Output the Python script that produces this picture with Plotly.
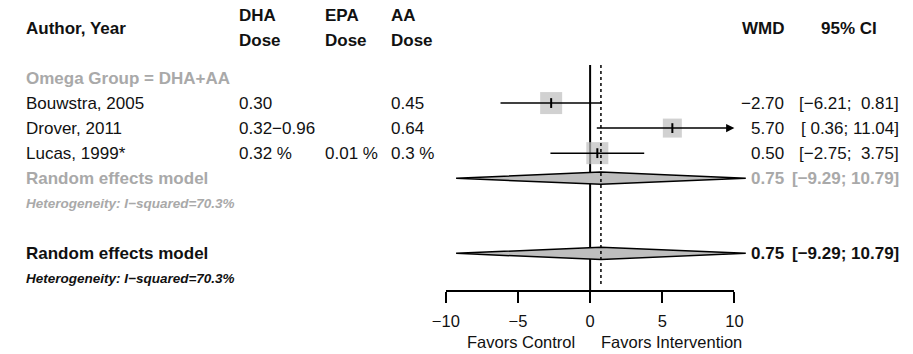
import plotly.graph_objects as go

# ---------------- data ----------------
studies = ["Bouwstra, 2005", "Drover, 2011", "Lucas, 1999*"]
dha_dose = ["0.30", "0.32\u22120.96", "0.32 %"]
epa_dose = ["", "", "0.01 %"]
aa_dose = ["0.45", "0.64", "0.3 %"]
wmd = [-2.70, 5.70, 0.50]
ci_lower = [-6.21, 0.36, -2.75]
ci_upper = [0.81, 11.04, 3.75]
subgroup_label = "Omega Group = DHA+AA"
pooled_wmd = 0.75
pooled_lower = -9.29
pooled_upper = 10.79
i_squared = 70.3
x_ticks = [-10, -5, 0, 5, 10]
label_left = "Favors Control"
label_right = "Favors Intervention"

# ---------------- layout constants ----------------
W, H = 913, 354
PX_PER_UNIT = 14.8
X_ZERO_PX = 591
ROW0_PX = 78
ROW_PX = 25.05
FONT = "Liberation Sans, Arial, Helvetica, sans-serif"
BLACK = "#111111"
GREY_TXT = "#a9a9a9"
GREY_FILL = "#bebebe"
SQUARE_PX = [22, 19, 22]

def row_of_px(p):
    return (p - ROW0_PX) / ROW_PX

def paper_x(p):
    return p / W

# rows
R_HDR = row_of_px(28)
R_HDR1 = row_of_px(15)
R_HDR2 = row_of_px(40)
R_SUB = 0
R_STUDY = [1, 2, 3]
R_SUB_RE = 4
R_SUB_HET = 5
R_RE = 7
R_HET = 8
R_AXIS = row_of_px(291)
R_LINE_TOP = row_of_px(65)
R_DOT_BOT = row_of_px(287)
R_FAVORS = row_of_px(342)

x_min_axis, x_max_axis = x_ticks[0], x_ticks[-1]

def fmt(v):
    s = f"{v:.2f}"
    return s.replace("-", "\u2212")

def fmt_ci(lo, hi, wl, wh):
    return "[" + fmt(lo).rjust(wl) + "; " + fmt(hi).rjust(wh) + "]"

wl = max(len(fmt(v)) for v in ci_lower)
wh = max(len(fmt(v)) for v in ci_upper)

fig = go.Figure()

# zero (no-effect) line
fig.add_trace(go.Scatter(x=[0, 0], y=[R_LINE_TOP, R_AXIS], mode="lines",
                         line=dict(color="black", width=2), hoverinfo="skip", showlegend=False))

# diamonds
def diamond(est, lo, hi, r, h=0.245):
    return go.Scatter(x=[lo, est, hi, est, lo], y=[r, r - h, r, r + h, r],
                      mode="lines", fill="toself", fillcolor=GREY_FILL,
                      line=dict(color="black", width=1.5), hoverinfo="skip", showlegend=False)

fig.add_trace(diamond(pooled_wmd, pooled_lower, pooled_upper, R_SUB_RE))
fig.add_trace(diamond(pooled_wmd, pooled_lower, pooled_upper, R_RE))

# squares
fig.add_trace(go.Scatter(x=wmd, y=R_STUDY, mode="markers",
                         marker=dict(symbol="square", size=SQUARE_PX, color=GREY_FILL, line=dict(width=0)),
                         hoverinfo="skip", showlegend=False))

# CI lines (within axis range)
for lo, hi, r in zip(ci_lower, ci_upper, R_STUDY):
    if hi <= x_max_axis and lo >= x_min_axis:
        fig.add_trace(go.Scatter(x=[lo, hi], y=[r, r], mode="lines",
                                 line=dict(color="black", width=1.5), hoverinfo="skip", showlegend=False))

# estimate ticks
fig.add_trace(go.Scatter(x=wmd, y=R_STUDY, mode="markers",
                         marker=dict(symbol="line-ns", size=7, line=dict(color="black", width=2)),
                         hoverinfo="skip", showlegend=False))

# dotted pooled line
fig.add_trace(go.Scatter(x=[pooled_wmd, pooled_wmd], y=[R_LINE_TOP, R_DOT_BOT], mode="lines",
                         line=dict(color="black", width=1.5, dash="dot"), hoverinfo="skip", showlegend=False))

# dummy trace for visible axis
fig.add_trace(go.Scatter(x=[x_min_axis, x_max_axis], y=[R_AXIS, R_AXIS], xaxis="x2", yaxis="y",
                         mode="markers", marker=dict(opacity=0), hoverinfo="skip", showlegend=False))

annotations = []

def txt(text, xpx, r, anchor="left", size=17, color=BLACK, bold=False, italic=False):
    t = text
    if bold:
        t = "<b>" + t + "</b>"
    if italic:
        t = "<i>" + t + "</i>"
    annotations.append(dict(text=t, x=paper_x(xpx), y=r, xref="paper", yref="y",
                            xanchor=anchor, yanchor="middle", showarrow=False,
                            font=dict(family=FONT, size=size, color=color)))

# headers
txt("Author, Year", 10, R_HDR, bold=True)
for name, xp in [("DHA", 229), ("EPA", 317), ("AA", 385)]:
    txt(name, xp, R_HDR1, bold=True)
    txt("Dose", xp, R_HDR2, bold=True)
txt("WMD", 792, R_HDR, anchor="right", bold=True)
txt("95% CI", 857, R_HDR, anchor="center", bold=True)

# subgroup label
txt(subgroup_label, 10, R_SUB, color=GREY_TXT, bold=True)

# study rows
for i, r in enumerate(R_STUDY):
    txt(studies[i], 10, r)
    txt(dha_dose[i], 229, r)
    if epa_dose[i]:
        txt(epa_dose[i], 317, r)
    txt(aa_dose[i], 385, r)
    txt(fmt(wmd[i]), 792, r, anchor="right")
    txt(fmt_ci(ci_lower[i], ci_upper[i], wl, wh), 910, r, anchor="right")

het_text = f"Heterogeneity: I\u2212squared={i_squared}%"
pooled_ci = fmt_ci(pooled_lower, pooled_upper, 0, 0)

txt("Random effects model", 10, R_SUB_RE, color=GREY_TXT, bold=True)
txt(fmt(pooled_wmd), 792, R_SUB_RE, anchor="right", color=GREY_TXT, bold=True)
txt(pooled_ci, 910, R_SUB_RE, anchor="right", color=GREY_TXT, bold=True)
txt(het_text, 10, R_SUB_HET, size=13.5, color=GREY_TXT, bold=True, italic=True)

txt("Random effects model", 10, R_RE, bold=True)
txt(fmt(pooled_wmd), 792, R_RE, anchor="right", bold=True)
txt(pooled_ci, 910, R_RE, anchor="right", bold=True)
txt(het_text, 10, R_HET, size=13.5, bold=True, italic=True)

# arrows for truncated CIs
for lo, hi, r in zip(ci_lower, ci_upper, R_STUDY):
    if hi > x_max_axis:
        annotations.append(dict(x=x_max_axis, y=r, ax=lo, ay=r, xref="x", yref="y",
                                axref="x", ayref="y", text="", showarrow=True,
                                arrowhead=2, arrowsize=1.1, arrowwidth=1.5, arrowcolor="black",
                                standoff=0, startstandoff=0))

# favours labels
annotations.append(dict(text=label_left, x=(578 - X_ZERO_PX) / PX_PER_UNIT, y=R_FAVORS,
                        xref="x", yref="y", xanchor="right", yanchor="middle", showarrow=False,
                        font=dict(family=FONT, size=16.5, color=BLACK)))
annotations.append(dict(text=label_right, x=(600 - X_ZERO_PX) / PX_PER_UNIT, y=R_FAVORS,
                        xref="x", yref="y", xanchor="left", yanchor="middle", showarrow=False,
                        font=dict(family=FONT, size=16.5, color=BLACK)))

x_lo = -X_ZERO_PX / PX_PER_UNIT
x_hi = (W - X_ZERO_PX) / PX_PER_UNIT
y_top = -ROW0_PX / ROW_PX
y_bot = y_top + H / ROW_PX

fig.update_layout(
    width=W, height=H,
    margin=dict(l=0, r=0, t=0, b=0),
    paper_bgcolor="white", plot_bgcolor="rgba(0,0,0,0)",
    showlegend=False,
    annotations=annotations,
    xaxis=dict(range=[x_lo, x_hi], domain=[0, 1], visible=False, fixedrange=True),
    yaxis=dict(range=[y_bot, y_top], domain=[0, 1], visible=False, fixedrange=True),
    xaxis2=dict(range=[x_min_axis, x_max_axis],
                domain=[(X_ZERO_PX + x_min_axis * PX_PER_UNIT) / W, (X_ZERO_PX + x_max_axis * PX_PER_UNIT) / W],
                anchor="free", position=1 - 291 / H,
                tickmode="array", tickvals=x_ticks,
                ticks="outside", ticklen=11, tickwidth=1.5, tickcolor="black",
                ticklabelstandoff=4,
                showline=True, linewidth=1.5, linecolor="black",
                showgrid=False, zeroline=False, fixedrange=True,
                tickfont=dict(family=FONT, size=16.5, color=BLACK)),
)

fig.write_html("out.html")
